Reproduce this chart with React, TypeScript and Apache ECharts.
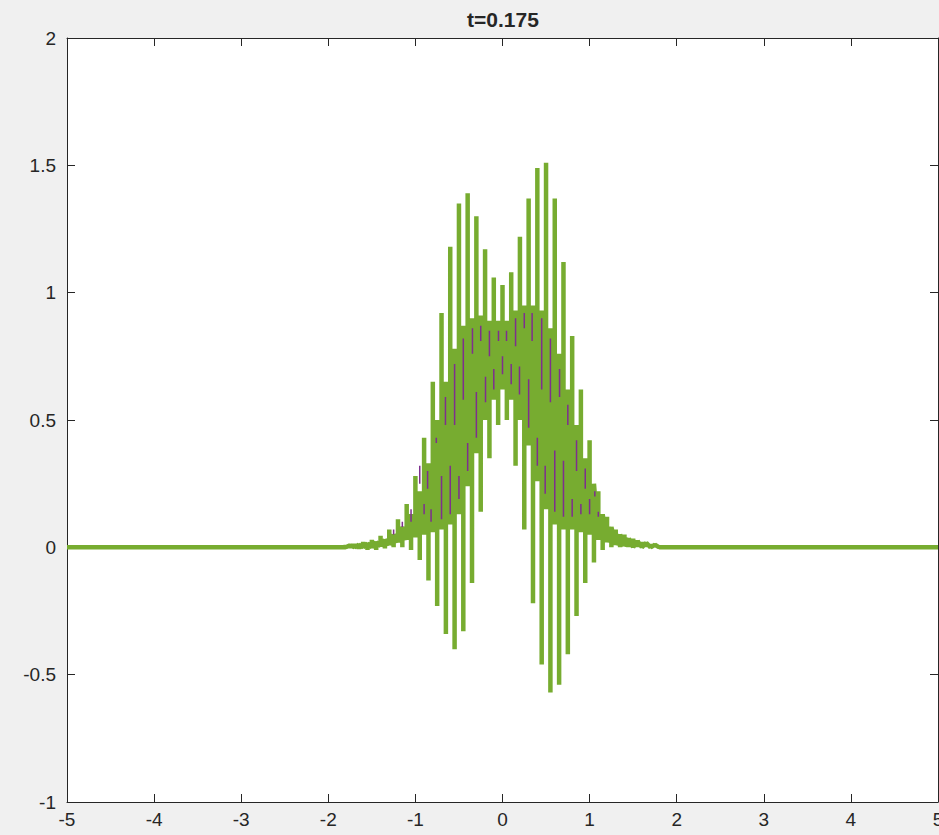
import React, { useEffect, useRef } from 'react';
import * as echarts from 'echarts';

const titleText = 't=0.175';

// flat baseline of the wave at both ends of the domain
const baselineX = [-5, 5];
const baselineY = [0, 0];

// green curve: vertical strokes (alternating upward / downward swings)
const strokeX = [
  -1.8, -1.75, -1.7, -1.65, -1.6, -1.55, -1.5, -1.45, -1.4, -1.35,
  -1.3, -1.25, -1.2, -1.15, -1.1, -1.05, -1.0, -0.95, -0.9, -0.85,
  -0.8, -0.75, -0.7, -0.65, -0.6, -0.55, -0.5, -0.45, -0.4, -0.35,
  -0.3, -0.25, -0.2, -0.15, -0.1, -0.05, 0.0, 0.05, 0.1, 0.15,
  0.2, 0.25, 0.3, 0.35, 0.4, 0.45, 0.5, 0.55, 0.6, 0.65,
  0.7, 0.75, 0.8, 0.85, 0.9, 0.95, 1.0, 1.05, 1.1, 1.15,
  1.2, 1.25, 1.3, 1.35, 1.4, 1.45, 1.5, 1.55, 1.6, 1.65,
  1.7, 1.75, 1.8,
];
const strokeLo = [
  0.0, -0.005, 0.0, -0.008, 0.0, -0.01, 0.0, -0.01, 0.005, -0.005,
  0.01, 0.0, 0.02, 0.0, 0.03, -0.01, 0.04, -0.05, 0.05, -0.13,
  0.06, -0.23, 0.07, -0.34, 0.09, -0.4, 0.13, -0.33, 0.24, -0.14,
  0.37, 0.14, 0.5, 0.35, 0.58, 0.48, 0.62, 0.5, 0.58, 0.32,
  0.5, 0.07, 0.4, -0.22, 0.26, -0.46, 0.15, -0.57, 0.09, -0.54,
  0.07, -0.42, 0.07, -0.27, 0.06, -0.14, 0.05, -0.06, 0.03, -0.01,
  0.02, 0.0, 0.01, 0.0, 0.005, 0.0, 0.0, 0.0, 0.0, 0.0,
  0.0, 0.0, 0.0,
];
const strokeHi = [
  0.01, 0.008, 0.015, 0.01, 0.022, 0.015, 0.03, 0.02, 0.045, 0.03,
  0.07, 0.05, 0.11, 0.08, 0.17, 0.13, 0.28, 0.22, 0.43, 0.33,
  0.65, 0.5, 0.92, 0.65, 1.18, 0.78, 1.35, 0.87, 1.39, 0.9,
  1.3, 0.91, 1.17, 0.89, 1.06, 0.89, 1.03, 0.89, 1.08, 0.93,
  1.22, 0.95, 1.37, 0.95, 1.49, 0.93, 1.51, 0.86, 1.37, 0.76,
  1.12, 0.62, 0.83, 0.48, 0.62, 0.35, 0.42, 0.25, 0.22, 0.13,
  0.12, 0.08, 0.07, 0.05, 0.05, 0.035, 0.035, 0.025, 0.022, 0.018,
  0.014, 0.01, 0.008,
];

// thin purple curve peeking through the green strokes
const purpleX = [
  -1.25, -1.15, -1.05, -0.95, -0.9, -0.86, -0.82, -0.76, -0.7, -0.655,
  -0.6, -0.55, -0.5, -0.45, -0.4, -0.345, -0.3, -0.25, -0.195, -0.15,
  -0.1, -0.046, 0.0, 0.046, 0.1, 0.15, 0.195, 0.25, 0.3, 0.34,
  0.4, 0.45, 0.49, 0.55, 0.6, 0.655, 0.7, 0.75, 0.8, 0.85,
  0.9, 0.95, 1.0, 1.06, 1.1,
];
const purpleLo = [
  0.05, 0.08, 0.1, 0.25, 0.13, 0.23, 0.1, 0.41, 0.11, 0.48,
  0.13, 0.48, 0.19, 0.58, 0.3, 0.76, 0.43, 0.81, 0.57, 0.75,
  0.62, 0.81, 0.68, 0.81, 0.64, 0.79, 0.6, 0.86, 0.47, 0.81,
  0.32, 0.62, 0.21, 0.57, 0.14, 0.59, 0.12, 0.48, 0.12, 0.3,
  0.13, 0.23, 0.13, 0.2, 0.12,
];
const purpleHi = [
  0.07, 0.1, 0.15, 0.32, 0.17, 0.3, 0.15, 0.43, 0.28, 0.59,
  0.32, 0.72, 0.28, 0.82, 0.41, 0.86, 0.61, 0.87, 0.67, 0.85,
  0.7, 0.85, 0.75, 0.85, 0.72, 0.9, 0.71, 0.92, 0.66, 0.92,
  0.43, 0.9, 0.32, 0.82, 0.38, 0.7, 0.34, 0.56, 0.19, 0.42,
  0.17, 0.31, 0.19, 0.22, 0.14,
];

const FONT = '"Liberation Sans", Arial, Helvetica, sans-serif';
const INK = '#262626';

export default function App() {
  const ref = useRef<HTMLDivElement>(null);

  useEffect(() => {
    if (!ref.current) return;
    const chart = echarts.init(ref.current, undefined, {
      renderer: 'svg',
      width: 939,
      height: 835,
    });

    const greenData: any[] = [[baselineX[0], baselineY[0]]];
    strokeX.forEach((x, i) => {
      const up = i % 2 === 0;
      const a = up ? strokeLo[i] : strokeHi[i];
      const b = up ? strokeHi[i] : strokeLo[i];
      greenData.push([x, a], [x, b], [x, a]);
    });
    greenData.push([baselineX[1], baselineY[1]]);

    const purpleData: any[] = [];
    purpleX.forEach((x, i) => {
      purpleData.push([x, purpleLo[i]], [x, purpleHi[i]], [x, '-']);
    });

    const common = {
      axisLine: { show: true, onZero: false, lineStyle: { color: INK, width: 1 } },
      axisTick: { show: true, inside: true, length: 8, lineStyle: { color: INK, width: 1 } },
      splitLine: { show: false },
    };

    chart.setOption({
      animation: false,
      backgroundColor: '#f0f0f0',
      grid: {
        left: 67,
        right: 1,
        top: 38,
        bottom: 33,
        show: true,
        backgroundColor: '#ffffff',
        borderWidth: 0,
        containLabel: false,
        outerBoundsMode: 'none',
      },
      graphic: [
        {
          type: 'text',
          x: 503,
          y: 19,
          style: {
            text: titleText,
            fill: INK,
            font: `bold 21px ${FONT}`,
            textAlign: 'center',
            textVerticalAlign: 'middle',
          },
        },
      ],
      xAxis: [
        {
          type: 'value',
          position: 'bottom',
          min: -5,
          max: 5,
          interval: 1,
          ...common,
          axisLabel: { show: true, color: INK, fontSize: 19, fontFamily: FONT, margin: 8 },
        },
        {
          type: 'value',
          position: 'top',
          min: -5,
          max: 5,
          interval: 1,
          ...common,
          axisLabel: { show: false },
        },
      ],
      yAxis: [
        {
          type: 'value',
          position: 'left',
          min: -1,
          max: 2,
          interval: 0.5,
          ...common,
          axisLabel: { show: true, color: INK, fontSize: 19, fontFamily: FONT, margin: 11 },
        },
        {
          type: 'value',
          position: 'right',
          min: -1,
          max: 2,
          interval: 0.5,
          ...common,
          axisLabel: { show: false },
        },
      ],
      series: [
        {
          type: 'line',
          data: greenData,
          symbol: 'none',
          showSymbol: false,
          lineStyle: { color: '#77AC30', width: 4.5 },
          z: 2,
          silent: true,
        },
        {
          type: 'line',
          data: purpleData,
          symbol: 'none',
          showSymbol: false,
          connectNulls: false,
          lineStyle: { color: '#7E2F8E', width: 1.5 },
          z: 3,
          silent: true,
        },
      ],
    });

    return () => chart.dispose();
  }, []);

  return (
    <div
      ref={ref}
      style={{ position: 'fixed', left: 0, top: 0, width: 939, height: 835 }}
    />
  );
}
